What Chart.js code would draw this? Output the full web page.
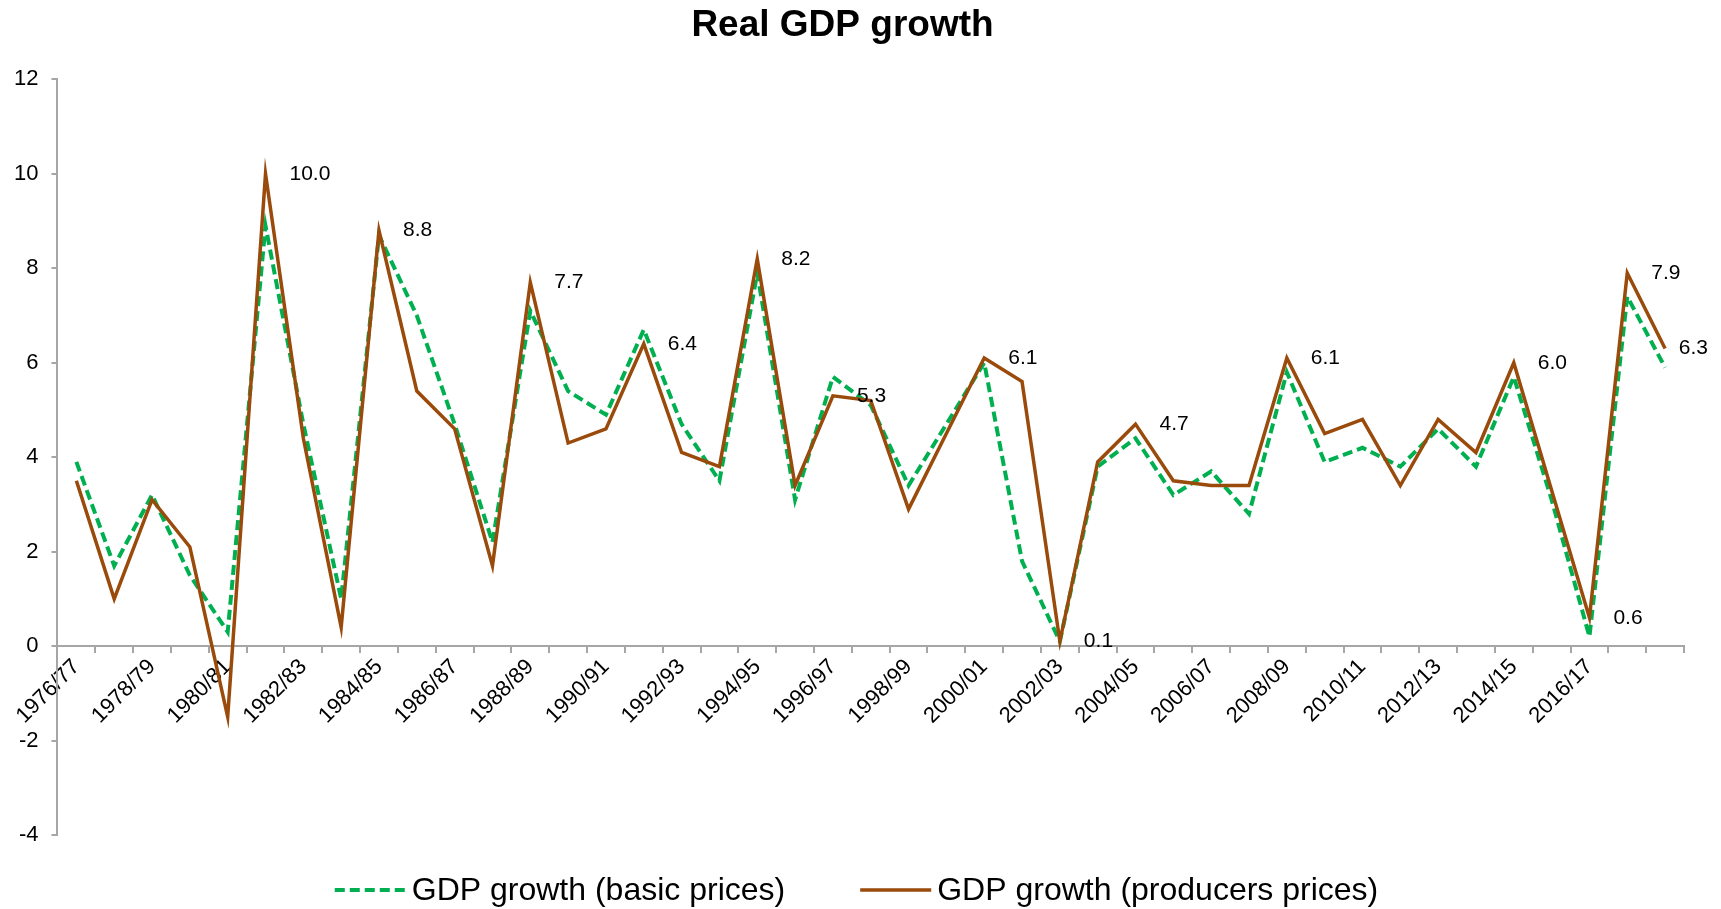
<!DOCTYPE html>
<html>
<head>
<meta charset="utf-8">
<title>Real GDP growth</title>
<script src="https://cdn.jsdelivr.net/npm/chart.js@4.4.1/dist/chart.umd.min.js"></script>
<style>
  html, body { margin: 0; padding: 0; background: #fff; }
  #wrap { width: 1721px; height: 909px; }
</style>
</head>
<body>
<div id="wrap"><canvas id="gdp"></canvas></div>
<script>
const years = [
  '1976/77', '1977/78', '1978/79', '1979/80', '1980/81', '1981/82', '1982/83', '1983/84',
  '1984/85', '1985/86', '1986/87', '1987/88', '1988/89', '1989/90', '1990/91', '1991/92',
  '1992/93', '1993/94', '1994/95', '1995/96', '1996/97', '1997/98', '1998/99', '1999/00',
  '2000/01', '2001/02', '2002/03', '2003/04', '2004/05', '2005/06', '2006/07', '2007/08',
  '2008/09', '2009/10', '2010/11', '2011/12', '2012/13', '2013/14', '2014/15', '2015/16',
  '2016/17', '2017/18', '2018/19'
];

const basicPrices = [
  3.9, 1.7, 3.2, 1.5, 0.3, 8.9, 4.7, 1.0, 8.7, 7.0,
  4.7, 2.2, 7.1, 5.4, 4.9, 6.7, 4.7, 3.5, 7.9, 3.1,
  5.7, 5.1, 3.4, 4.7, 6.0, 1.8, 0.1, 3.8, 4.4, 3.2,
  3.7, 2.8, 5.8, 3.9, 4.2, 3.8, 4.6, 3.8, 5.7, 3.1,
  0.2, 7.4, 5.9
];

const producersPrices = [
  3.5, 1.0, 3.1, 2.1, -1.5, 10.0, 4.4, 0.4, 8.8, 5.4,
  4.6, 1.7, 7.7, 4.3, 4.6, 6.4, 4.1, 3.8, 8.2, 3.4,
  5.3, 5.2, 2.9, 4.5, 6.1, 5.6, 0.1, 3.9, 4.7, 3.5,
  3.4, 3.4, 6.1, 4.5, 4.8, 3.4, 4.8, 4.1, 6.0, 3.3,
  0.6, 7.9, 6.3
];

// points of the producers series that carry a value label
const labelledPoints = [5, 8, 12, 15, 18, 20, 24, 26, 28, 32, 38, 40, 41, 42];

const yMin = -4;
const yMax = 12;
const yStep = 2;

const FONT = '"Liberation Sans", Arial, sans-serif';
const AXIS_GREY = '#a6a6a6';

Chart.defaults.font.family = FONT;
Chart.defaults.color = '#000';

// value labels to the right of the chosen points
const pointValuesPlugin = {
  id: 'pointValues',
  afterDatasetsDraw(chart) {
    const { ctx } = chart;
    const meta = chart.getDatasetMeta(1);
    const data = chart.data.datasets[1].data;
    ctx.save();
    ctx.font = '21px ' + FONT;
    ctx.fillStyle = '#000';
    ctx.textAlign = 'left';
    ctx.textBaseline = 'middle';
    labelledPoints.forEach((i) => {
      const pt = meta.data[i];
      const text = data[i].toFixed(1);
      const w = ctx.measureText(text).width;
      const x = Math.min(pt.x + 24, chart.width - w - 13);
      ctx.fillText(text, x, pt.y);
    });
    ctx.restore();
  }
};

// legend row under the plot: short line sample, then the series name
const bottomLegendPlugin = {
  id: 'bottomLegend',
  afterDraw(chart) {
    const { ctx } = chart;
    const lineLen = 71;
    const gapText = 6;
    const gapItems = 75;
    const y = chart.height - 19;
    ctx.save();
    ctx.font = '32px ' + FONT;
    ctx.textAlign = 'left';
    ctx.textBaseline = 'middle';
    const items = chart.data.datasets.map((ds) => ({ ds, w: ctx.measureText(ds.label).width }));
    const total = items.reduce((s, it) => s + lineLen + gapText + it.w, 0) + gapItems * (items.length - 1);
    let x = (chart.width - total) / 2 - 4;
    items.forEach(({ ds, w }) => {
      ctx.strokeStyle = ds.borderColor;
      ctx.lineWidth = ds.borderWidth;
      ctx.setLineDash(ds.borderDash || []);
      ctx.beginPath();
      ctx.moveTo(x, y);
      ctx.lineTo(x + lineLen, y);
      ctx.stroke();
      ctx.setLineDash([]);
      x += lineLen + gapText;
      ctx.fillStyle = '#000';
      ctx.fillText(ds.label, x, y + 1);
      x += w + gapItems;
    });
    ctx.restore();
  }
};

new Chart(document.getElementById('gdp'), {
  type: 'line',
  data: {
    labels: years,
    datasets: [
      {
        label: 'GDP growth (basic prices)',
        data: basicPrices,
        borderColor: '#00b050',
        backgroundColor: '#00b050',
        borderWidth: 4,
        borderDash: [10, 5],
        pointRadius: 0,
        tension: 0,
        order: 1
      },
      {
        label: 'GDP growth (producers prices)',
        data: producersPrices,
        borderColor: '#9a4a0a',
        backgroundColor: '#9a4a0a',
        borderWidth: 3.5,
        pointRadius: 0,
        tension: 0,
        order: 0
      }
    ]
  },
  options: {
    responsive: true,
    maintainAspectRatio: false,
    animation: false,
    layout: {
      padding: { left: 1, right: 37, top: 0, bottom: 74 }
    },
    plugins: {
      title: {
        display: true,
        text: 'Real GDP growth',
        font: { size: 37, weight: 'bold' },
        color: '#000',
        padding: { top: 4, bottom: 31 }
      },
      legend: { display: false },
      tooltip: { enabled: false }
    },
    scales: {
      x: {
        position: { y: 0 },
        offset: true,
        grid: {
          offset: true,
          drawOnChartArea: false,
          drawTicks: true,
          tickLength: 6,
          color: AXIS_GREY,
          lineWidth: 2
        },
        border: { display: true, color: AXIS_GREY, width: 2 },
        ticks: {
          autoSkip: false,
          minRotation: 45,
          maxRotation: 45,
          padding: 2,
          font: { size: 22 },
          color: '#000',
          callback: (val, i) => (i % 2 === 0 && i <= 40 ? years[i] : '')
        }
      },
      y: {
        min: yMin,
        max: yMax,
        grid: {
          drawOnChartArea: false,
          drawTicks: true,
          tickLength: 6,
          color: AXIS_GREY,
          lineWidth: 2
        },
        border: { display: true, color: AXIS_GREY, width: 2 },
        ticks: {
          stepSize: yStep,
          padding: 13,
          font: { size: 22 },
          color: '#000'
        }
      }
    }
  },
  plugins: [pointValuesPlugin, bottomLegendPlugin]
});
</script>
</body>
</html>
